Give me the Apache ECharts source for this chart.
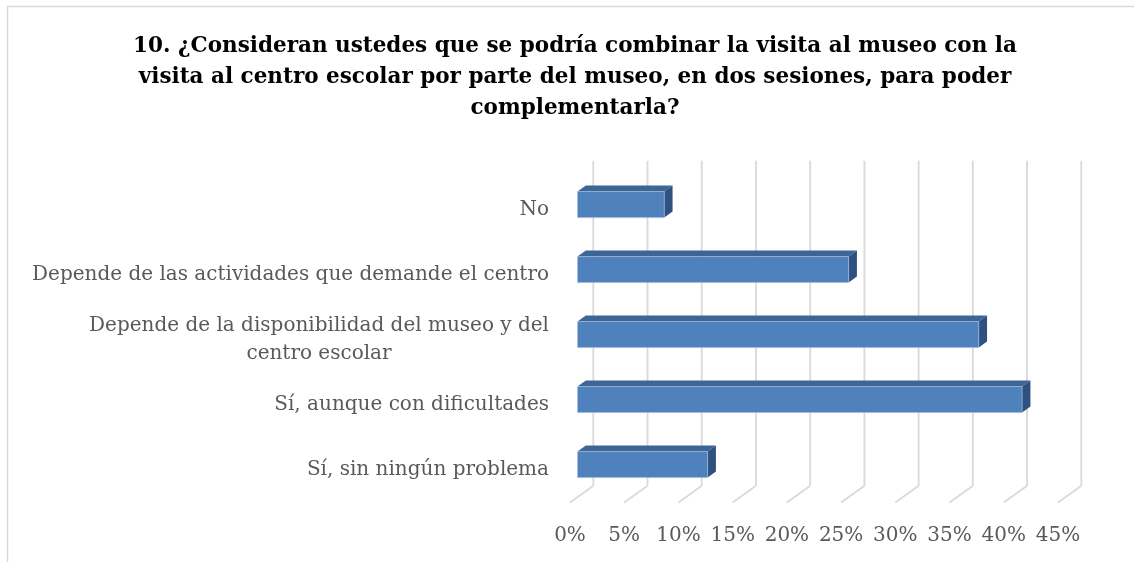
<!DOCTYPE html>
<html>
<head>
<meta charset="utf-8">
<script src="https://cdn.jsdelivr.net/npm/echarts@6/dist/echarts.min.js"></script>
<style>
  html, body { margin: 0; padding: 0; background: #fff; }
  #main { width: 1134px; height: 562px; }
</style>
</head>
<body>
<div id="main"></div>
<script>
  const titleText = '10. ¿Consideran ustedes que se podría combinar la visita al museo con la\n' +
    'visita al centro escolar por parte del museo, en dos sesiones, para poder\ncomplementarla?';
  const categories = [
    'No',
    'Depende de las actividades que demande el centro',
    'Depende de la disponibilidad del museo y del centro escolar',
    'Sí, aunque con dificultades',
    'Sí, sin ningún problema',
  ];
  const percentages = [8, 25, 37, 41, 12];
  const tickValues = [0, 5, 10, 15, 20, 25, 30, 35, 40, 45];

  // oblique projection of the 3D box, in px
  const WALL_DX = 23.3;
  const WALL_DY = 16.7;
  const BAR_X0 = 7.5; // bars stand a bit behind the floor edge
  const BAR_DX = 8.3;
  const BAR_DY = 6;
  const labelFont = 'DejaVu Serif';

  const myChart = echarts.init(document.getElementById('main'));

  // back wall gridlines + floor lines
  function renderWall(params, api) {
    const cs = params.coordSys;
    const x = api.coord([api.value(0), 0])[0];
    const top = cs.y;
    const bottom = cs.y + cs.height;
    const style = { stroke: '#d9d9d9', lineWidth: 1.8 };
    return {
      type: 'group',
      children: [
        { type: 'line', shape: { x1: x + WALL_DX, y1: top - WALL_DY, x2: x + WALL_DX, y2: bottom - WALL_DY }, style },
        { type: 'line', shape: { x1: x, y1: bottom, x2: x + WALL_DX, y2: bottom - WALL_DY }, style },
      ],
    };
  }

  function renderBar(params, api) {
    const v = api.value(0);
    const idx = api.value(1);
    const start = api.coord([0, idx]);
    const end = api.coord([v, idx]);
    const h = api.size([0, 1])[1] * 0.4;
    const dy0 = BAR_X0 * WALL_DY / WALL_DX;
    const x0 = start[0] + BAR_X0;
    const x1 = end[0] + BAR_X0;
    const yT = start[1] - dy0 - h / 2;
    const yB = yT + h;
    return {
      type: 'group',
      children: [
        {
          type: 'polygon',
          shape: { points: [[x0, yT], [x1, yT], [x1 + BAR_DX, yT - BAR_DY], [x0 + BAR_DX, yT - BAR_DY]] },
          style: { fill: '#3d6596' },
        },
        {
          type: 'polygon',
          shape: { points: [[x1, yT], [x1 + BAR_DX, yT - BAR_DY], [x1 + BAR_DX, yB - BAR_DY], [x1, yB]] },
          style: { fill: '#2f5180' },
        },
        {
          type: 'rect',
          shape: { x: x0, y: yT, width: x1 - x0, height: h },
          style: { fill: '#4f81bd', stroke: '#a9c0de', lineWidth: 0.6 },
        },
      ],
    };
  }

  const option = {
    backgroundColor: '#fff',
    animation: false,
    title: {
      text: titleText,
      left: 575,
      top: 31,
      padding: 0,
      textAlign: 'center',
      textStyle: {
        fontFamily: labelFont,
        fontWeight: 'bold',
        fontSize: 21.5,
        lineHeight: 31,
        color: '#000',
      },
    },
    graphic: [{
      type: 'rect',
      shape: { x: 7.5, y: 6.5, width: 1400, height: 800 },
      style: { fill: null, stroke: '#d9d9d9', lineWidth: 1.5 },
      silent: true,
    }],
    grid: {
      left: 570,
      right: 76,
      top: 177.5,
      bottom: 59.5,
    },
    xAxis: {
      type: 'value',
      min: 0,
      max: 45,
      interval: 5,
      axisLine: { show: false },
      axisTick: { show: false },
      splitLine: { show: false },
      axisLabel: {
        formatter: '{value}%',
        margin: 23,
        fontFamily: labelFont,
        fontSize: 20,
        color: '#595959',
      },
    },
    yAxis: {
      type: 'category',
      inverse: true,
      data: categories,
      axisLine: { show: false },
      axisTick: { show: false },
      splitLine: { show: false },
      axisLabel: {
        margin: 21,
        fontFamily: labelFont,
        fontSize: 20,
        color: '#595959',
        formatter(value) {
          if (value.length <= 48) {
            return value;
          }
          const cut = value.lastIndexOf(' ', 44);
          return '{a|' + value.slice(0, cut) + '}\n{b|' + value.slice(cut + 1) + '}';
        },
        rich: {
          a: { fontFamily: labelFont, fontSize: 20, color: '#595959', lineHeight: 28 },
          b: { fontFamily: labelFont, fontSize: 20, color: '#595959', lineHeight: 28, align: 'center' },
        },
      },
    },
    series: [
      {
        type: 'custom',
        z: 1,
        renderItem: renderWall,
        data: tickValues.map(t => [t, 0]),
        silent: true,
      },
      {
        type: 'custom',
        z: 2,
        renderItem: renderBar,
        encode: { x: 0, y: 1 },
        data: percentages.map((p, i) => [p, i]),
      },
    ],
  };

  myChart.setOption(option);
</script>
</body>
</html>
